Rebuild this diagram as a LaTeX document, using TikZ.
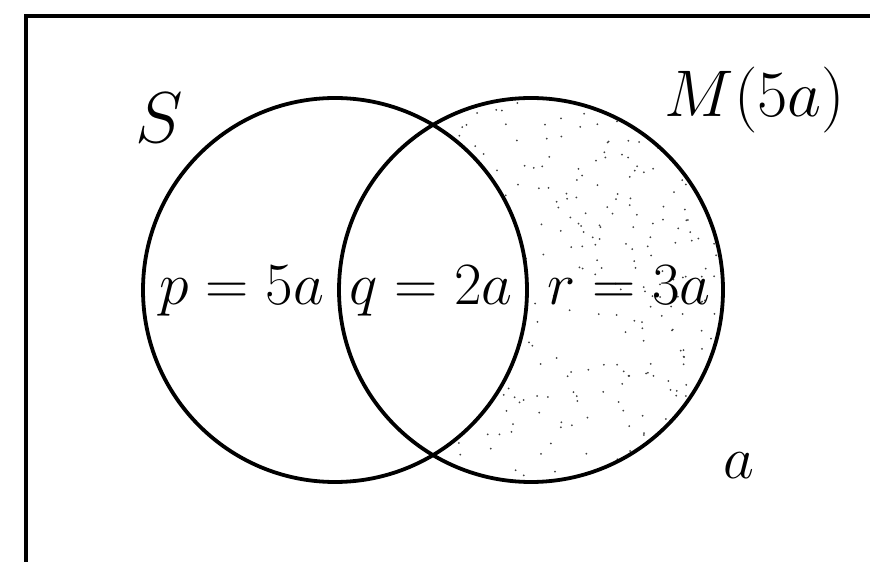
\RequirePackage{fix-cm}
\documentclass[tikz,border=0pt]{standalone}
\begin{document}
\begin{tikzpicture}[x=0.5pt,y=0.5pt,
  setline/.style={line width=1.9pt},
  lbl/.style={inner sep=0pt, font=\fontsize{30}{36}\selectfont},
  biglbl/.style={inner sep=0pt, font=\fontsize{33}{40}\selectfont},
  slbl/.style={inner sep=0pt, font=\fontsize{36}{43}\selectfont}]
\useasboundingbox (0,0) rectangle (870,561);
% frame (bottom and right edges are cut off in the reference)
\coordinate (fbl) at (26,-5);
\coordinate (ftl) at (26,545);
\coordinate (ftr) at (875,545);
\draw[line width=2pt] (fbl) -- (ftl) -- (ftr);
% centres
\coordinate (cS) at (335,271);
\coordinate (cM) at (531,271);
% stippled region M \ S
\begin{scope}
  \clip (cM) circle (192);
  \pgfmathsetseed{4711}
  \foreach \i in {1,...,430}{
    \pgfmathsetmacro\rx{339+384*rnd}
    \pgfmathsetmacro\ry{79+384*rnd}
    \fill[black!75] (\rx,\ry) circle (1.0);
  }
  \fill[white] (cS) circle (192);
\end{scope}
% circles
\draw[setline] (cS) circle (192);
\draw[setline] (cM) circle (192);
% labels
\node[slbl, anchor=center] (S) at (159,443) {$S$};
\node[biglbl, anchor=base] (M) at (755,444) {$M(5a)$};
\node[lbl, anchor=base] (p) at (242,256) {$p=5a$};
\node[lbl, anchor=base] (q) at (431,256) {$q=2a$};
\node[lbl, anchor=base] (r) at (629,256) {$r=3a$};
\node[lbl, anchor=base] (u) at (739,83) {$a$};
\end{tikzpicture}
\end{document}
